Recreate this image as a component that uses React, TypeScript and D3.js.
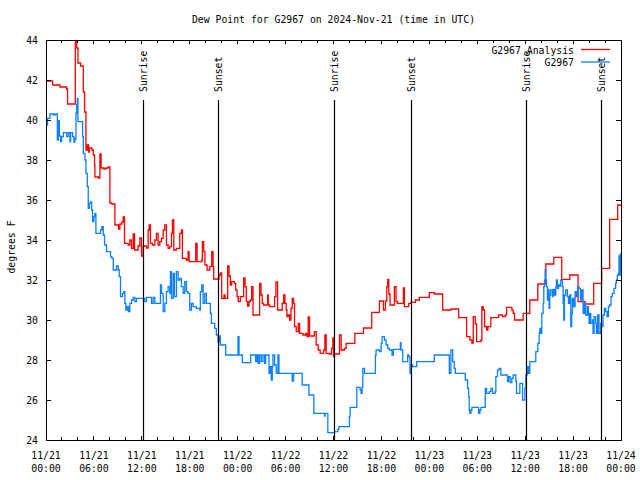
import React from "react";
import * as d3 from "d3";

const title = "Dew Point for G2967 on 2024-Nov-21 (time in UTC)";
const yLabel = "degrees F";
const seriesNames = ["G2967 Analysis", "G2967"];
const yTicks = [24, 26, 28, 30, 32, 34, 36, 38, 40, 42, 44];

// [hours since 2024-11-21 00:00 UTC, degrees F]
const analysisSeries: [number, number][] = [
  [0, 41.95], [0.83, 41.75], [1.75, 41.65], [2.58, 41.55], [2.7, 40.8], [3.67, 43.95], [3.85, 43.6], [4.0, 42.85],
  [4.33, 42.7], [4.67, 41.4], [4.83, 40.4], [5.0, 38.5], [5.17, 38.75], [5.33, 38.4], [5.42, 38.6], [5.75, 38.5],
  [5.92, 38.25], [6.08, 37.75], [6.125, 37.15], [6.58, 37.1], [6.75, 38.3], [6.9, 37.6], [7.25, 37.55], [7.5, 37.6],
  [7.79, 37.65], [8.0, 35.85], [8.25, 35.8], [8.625, 34.75], [9.08, 34.55], [9.25, 34.8], [9.5, 34.9], [9.67, 35.15],
  [9.83, 33.83], [10.29, 33.75], [10.5, 34.0], [10.7, 33.58], [10.92, 34.3], [11.08, 33.5], [11.54, 33.7], [11.75, 34.1],
  [11.96, 33.2], [12.17, 33.7], [12.58, 33.6], [12.79, 34.5], [12.92, 34.75], [13.08, 33.83], [13.33, 33.75], [13.625, 34.0],
  [13.83, 34.33], [14.04, 33.75], [14.25, 33.92], [14.46, 34.08], [14.67, 34.5], [14.875, 34.75], [15.08, 33.75], [15.29, 33.58],
  [15.5, 33.67], [15.71, 34.33], [15.83, 35.0], [16.0, 33.5], [16.33, 33.58], [16.75, 34.33], [16.96, 34.5], [17.08, 33.08],
  [17.58, 33.0], [17.79, 33.42], [17.92, 32.92], [18.75, 33.83], [18.92, 32.92], [19.5, 33.0], [19.58, 33.92], [19.75, 33.42],
  [19.9, 32.75], [20.17, 32.5], [20.5, 32.67], [20.75, 33.42], [20.92, 32.67], [21.0, 32.05], [21.54, 32.05], [21.67, 32.25],
  [21.83, 32.35], [22.0, 31.08], [22.29, 31.25], [22.42, 31.08], [22.75, 32.7], [22.92, 32.2], [23.08, 31.75], [23.25, 31.92],
  [23.58, 31.83], [23.75, 31.5], [23.92, 31.17], [24.08, 30.92], [24.33, 31.17], [24.75, 32.1], [24.92, 31.67], [25.08, 30.92],
  [25.25, 30.7], [25.42, 30.92], [25.58, 31.0], [25.75, 31.67], [25.92, 30.25], [26.75, 31.83], [26.92, 31.25], [27.08, 30.83],
  [27.25, 30.75], [27.75, 31.25], [27.83, 30.75], [28.0, 30.67], [28.625, 31.17], [28.79, 31.9], [29.0, 30.5], [29.58, 30.83],
  [29.75, 31.25], [29.92, 30.83], [30.08, 30.5], [30.17, 30.17], [30.33, 30.25], [30.5, 30.0], [30.67, 30.58], [30.83, 31.08],
  [31.0, 30.83], [31.125, 29.67], [31.33, 29.42], [31.58, 29.83], [31.75, 29.33], [32.17, 29.25], [32.5, 29.33], [32.67, 29.17],
  [32.83, 30.15], [33.0, 29.2], [33.6, 29.42], [33.83, 28.75], [34.08, 28.5], [34.33, 28.33], [34.75, 28.5], [34.92, 29.25],
  [35.08, 28.33], [35.5, 28.3], [35.75, 28.58], [35.92, 29.1], [36.0, 28.17], [36.125, 28.3], [36.75, 29.25], [36.96, 28.5],
  [37.375, 28.58], [37.58, 28.83], [38.67, 29.33], [39.75, 29.6], [40.79, 30.38], [41.75, 30.95], [42.25, 30.5], [42.5, 30.95],
  [42.67, 31.67], [42.79, 32.03], [42.92, 31.3], [43.08, 30.75], [43.625, 31.67], [43.83, 30.92], [44.0, 30.83], [44.75, 31.6],
  [44.875, 30.67], [45.42, 30.83], [45.7, 30.88], [46.25, 31.0], [46.75, 31.13], [48.0, 31.37], [48.625, 31.3], [49.67, 30.5],
  [50.7, 30.55], [51.67, 30.12], [52.67, 29.17], [53.08, 29.0], [53.33, 28.85], [53.5, 30.17], [53.75, 29.8], [53.92, 28.92],
  [54.46, 29.0], [54.58, 30.67], [54.75, 30.5], [54.92, 29.67], [55.17, 29.5], [55.33, 29.67], [55.7, 30.12], [56.67, 30.25],
  [57.17, 30.17], [57.5, 30.25], [57.67, 30.63], [58.33, 30.5], [58.5, 30.33], [58.67, 30.0], [59.75, 30.33], [60.58, 31.0],
  [61.58, 31.8], [62.58, 32.8], [63.58, 33.13], [64.58, 32.03], [65.58, 32.25], [66.625, 30.92], [67.5, 30.8], [68.58, 31.83],
  [69.58, 32.58], [70.58, 35.03], [71.58, 35.75], [72, 35.75],
];

const observedSeries: [number, number][] = [
  [0, 40.0], [0.1, 39.75], [0.2, 40.08], [0.5, 40.3], [0.92, 40.25], [1.125, 40.3], [1.42, 39.0], [1.54, 39.97],
  [1.67, 39.2], [1.83, 38.92], [1.96, 39.17], [2.17, 39.37], [2.58, 39.17], [2.79, 39.37], [3.0, 38.92], [3.08, 39.37],
  [3.33, 39.17], [3.5, 38.9], [3.625, 39.05], [3.75, 40.33], [3.83, 40.75], [3.92, 41.08], [4.0, 39.92], [4.58, 39.17],
  [4.67, 38.33], [4.875, 38.0], [5.0, 37.33], [5.17, 36.67], [5.29, 35.58], [5.42, 35.83], [5.58, 35.9], [5.71, 35.5],
  [5.83, 34.92], [6.0, 35.17], [6.125, 35.33], [6.25, 34.33], [6.83, 34.5], [7.0, 34.67], [7.17, 34.25], [7.33, 33.75],
  [7.58, 33.42], [8.08, 33.17], [8.25, 33.08], [8.42, 32.5], [8.83, 32.7], [9.04, 32.5], [9.17, 32.17], [9.33, 31.17],
  [9.58, 31.33], [9.75, 31.42], [9.875, 30.83], [10.0, 30.5], [10.17, 30.67], [10.33, 30.42], [10.5, 30.83], [10.71, 31.0],
  [10.92, 31.13], [11.125, 30.92], [11.33, 31.08], [12.375, 30.92], [12.58, 31.13], [13.21, 30.83], [13.42, 31.13], [13.625, 30.83],
  [14.33, 31.75], [14.46, 31.33], [14.67, 30.42], [14.875, 30.83], [15.08, 31.42], [15.29, 31.67], [15.5, 31.33], [15.58, 32.42],
  [15.71, 31.08], [15.92, 32.33], [16.08, 31.17], [16.33, 32.42], [16.54, 32.0], [16.75, 32.08], [16.96, 31.67], [17.17, 31.33],
  [17.375, 31.92], [17.58, 31.42], [17.79, 31.33], [18.0, 30.5], [18.21, 30.83], [18.42, 30.67], [18.83, 30.58], [19.25, 30.5],
  [19.33, 31.42], [19.5, 31.75], [19.67, 30.83], [19.875, 31.33], [20.08, 30.83], [20.58, 30.33], [20.71, 29.83], [21.125, 29.58],
  [21.33, 29.25], [21.54, 28.9], [21.67, 29.2], [21.83, 28.75], [22.5, 28.25], [24.04, 29.17], [24.17, 28.25], [24.58, 27.87],
  [25.625, 28.25], [26.25, 27.92], [26.42, 28.25], [26.58, 27.83], [26.75, 28.25], [26.96, 27.92], [27.17, 28.25], [27.375, 27.83],
  [27.5, 28.25], [27.92, 27.33], [28.08, 27.67], [28.21, 27.0], [28.33, 27.67], [28.42, 28.25], [28.625, 27.75], [28.83, 27.33],
  [29.04, 28.25], [29.17, 27.33], [30.83, 26.95], [31.0, 27.33], [32.08, 26.75], [32.92, 26.25], [33.54, 25.33], [34.875, 25.2],
  [34.95, 25.33], [35.29, 24.37], [36.125, 24.42], [36.54, 24.53], [36.67, 24.67], [38.0, 25.17], [38.08, 25.63], [38.92, 26.63],
  [39.33, 26.5], [39.46, 26.33], [39.58, 26.63], [39.67, 27.58], [39.875, 27.33], [41.25, 28.25], [41.33, 28.5], [41.75, 28.42],
  [41.96, 28.83], [42.08, 29.17], [42.375, 29.0], [42.58, 28.75], [42.79, 28.58], [43.0, 28.5], [43.33, 28.25], [43.5, 28.53],
  [44.375, 28.87], [44.46, 28.5], [44.67, 27.92], [45.29, 28.25], [45.42, 28.17], [45.58, 27.33], [45.71, 27.75], [45.92, 27.67],
  [46.42, 27.92], [48.625, 28.25], [50.5, 27.33], [50.7, 28.5], [50.92, 27.92], [51.125, 27.58], [51.25, 27.33], [52.5, 27.0],
  [52.79, 26.58], [52.92, 26.17], [53.0, 25.5], [53.08, 25.33], [53.21, 25.5], [53.33, 25.63], [54.17, 25.33], [54.33, 25.5],
  [54.46, 25.63], [55.0, 26.58], [55.17, 26.33], [55.5, 26.42], [55.71, 26.58], [55.92, 26.33], [56.25, 26.42], [56.33, 27.17],
  [56.54, 27.5], [56.75, 27.58], [56.96, 27.25], [57.79, 26.92], [57.92, 27.17], [58.125, 26.87], [58.33, 27.08], [58.5, 27.25],
  [58.83, 26.92], [58.92, 26.33], [59.33, 26.83], [59.67, 26.0], [59.96, 26.58], [60.08, 27.25], [60.25, 27.67], [60.42, 27.33],
  [60.58, 27.92], [61.25, 27.92], [61.33, 28.42], [61.58, 28.83], [61.75, 29.33], [61.83, 29.58], [61.96, 29.33], [62.08, 30.33],
  [62.25, 30.83], [62.33, 31.67], [62.42, 32.0], [62.5, 32.53], [62.58, 32.0], [62.67, 31.67], [62.79, 31.0], [62.92, 31.5],
  [63.0, 30.58], [63.08, 31.25], [63.21, 31.5], [63.42, 31.17], [63.5, 31.53], [63.67, 31.25], [63.83, 31.67], [63.92, 32.0],
  [64.04, 31.58], [64.17, 31.75], [64.33, 31.7], [64.46, 32.0], [64.67, 31.67], [64.75, 30.83], [64.83, 30.0], [64.92, 31.25],
  [65.08, 31.5], [65.29, 31.17], [65.42, 30.83], [65.58, 31.25], [65.71, 29.67], [65.83, 30.33], [65.92, 31.08], [66.08, 30.67],
  [66.25, 31.42], [66.42, 31.17], [66.58, 31.67], [66.75, 31.58], [66.92, 31.0], [67.08, 31.5], [67.25, 30.33], [67.42, 30.83],
  [67.58, 30.25], [67.79, 30.67], [67.92, 30.25], [68.0, 29.83], [68.08, 30.33], [68.21, 29.83], [68.42, 30.0], [68.5, 29.33],
  [68.625, 30.17], [68.83, 29.83], [68.92, 29.33], [69.08, 30.25], [69.25, 29.33], [69.46, 29.83], [69.58, 29.67], [69.75, 30.25],
  [69.92, 30.58], [70.08, 30.42], [70.25, 30.17], [70.42, 30.67], [70.58, 30.75], [70.75, 31.17], [70.92, 31.33], [71.125, 31.58],
  [71.33, 31.83], [71.42, 32.0], [71.54, 32.25], [71.67, 32.33], [71.75, 33.2], [71.83, 32.25], [71.92, 33.3], [72, 33.3],
];

const sunLabels = ["Sunrise", "Sunset", "Sunrise", "Sunset", "Sunrise", "Sunset"];
const sunHours = [12.11, 21.58, 36.1, 45.67, 60.14, 69.53];

const W = 640;
const H = 480;
const M = { left: 46, right: 621, top: 40, bottom: 440 };
const FONT = "'DejaVu Sans Mono', monospace";
const FS = 9.8;
const RED = "#ff0000";
const BLUE = "#0a80ff";

const t0 = Date.UTC(2024, 10, 21, 0, 0);
const toDate = (h: number) => new Date(t0 + h * 3600 * 1000);

export default function App() {
  const x = d3.scaleUtc().domain([toDate(0), toDate(72)]).range([M.left, M.right]);
  const y = d3.scaleLinear().domain([24, 44]).range([M.bottom, M.top]);
  const line = d3
    .line<[number, number]>()
    .x((d) => x(toDate(d[0])))
    .y((d) => y(d[1]))
    .curve(d3.curveStepAfter);

  const majorTicks = x.ticks(d3.utcHour.every(6)!);
  const minorTicks = x.ticks(d3.utcHour.every(2)!).filter((d) => d.getUTCHours() % 6 !== 0);
  const fmtDate = d3.utcFormat("%m/%d");
  const fmtTime = d3.utcFormat("%H:%M");

  return (
    <svg width={W} height={H} style={{ display: "block", position: "absolute", left: 0, top: 0 }} fontFamily={FONT} fontSize={FS}>
      <rect x={0} y={0} width={W} height={H} fill="#fff" />
      <text x={(M.left + M.right) / 2} y={23} textAnchor="middle">{title}</text>
      {/* data */}
      <g fill="none" strokeWidth={1.3}>
        <path d={line(analysisSeries) || ""} stroke={RED} />
        <path d={line(observedSeries) || ""} stroke={BLUE} />
      </g>
      {/* frame */}
      <rect x={M.left} y={M.top} width={M.right - M.left} height={M.bottom - M.top} fill="none" stroke="#000" shapeRendering="crispEdges" />
      {/* y ticks */}
      {yTicks.map((v) => (
        <g key={"y" + v} shapeRendering="crispEdges">
          <line x1={M.left} x2={M.left + 5} y1={y(v)} y2={y(v)} stroke="#000" />
          <line x1={M.right - 5} x2={M.right} y1={y(v)} y2={y(v)} stroke="#000" />
          <text x={M.left - 8} y={y(v)} textAnchor="end" dominantBaseline="central">{v}</text>
        </g>
      ))}
      {/* x ticks */}
      {majorTicks.map((d, i) => (
        <g key={"xm" + i} shapeRendering="crispEdges">
          <line x1={x(d)} x2={x(d)} y1={M.bottom} y2={M.bottom - 4} stroke="#000" />
          <line x1={x(d)} x2={x(d)} y1={M.top} y2={M.top + 4} stroke="#000" />
          <text x={x(d)} y={459} textAnchor="middle">{fmtDate(d)}</text>
          <text x={x(d)} y={472} textAnchor="middle">{fmtTime(d)}</text>
        </g>
      ))}
      {minorTicks.map((d, i) => (
        <g key={"xn" + i} shapeRendering="crispEdges">
          <line x1={x(d)} x2={x(d)} y1={M.bottom} y2={M.bottom - 3} stroke="#000" />
          <line x1={x(d)} x2={x(d)} y1={M.top} y2={M.top + 3} stroke="#000" />
        </g>
      ))}
      {/* y label */}
      <text transform={`translate(11,${(M.top + M.bottom) / 2 + 7}) rotate(-90)`} textAnchor="middle" dominantBaseline="central">{yLabel}</text>
      {/* sunrise / sunset */}
      {sunHours.map((h, i) => {
        const px = Math.round(x(toDate(h))) + 0.5;
        return (
          <g key={"s" + i}>
            <line x1={px} x2={px} y1={100} y2={M.bottom} stroke="#000" strokeWidth={1.2} />
            <text transform={`translate(${px},92) rotate(-90)`} textAnchor="start" dominantBaseline="central">{sunLabels[i]}</text>
          </g>
        );
      })}
      {/* legend */}
      {seriesNames.map((n, i) => (
        <g key={"l" + i}>
          <text x={574} y={50 + i * 12.5} textAnchor="end" dominantBaseline="central">{n}</text>
          <line x1={581} x2={610} y1={49.5 + i * 12.5} y2={49.5 + i * 12.5} stroke={i === 0 ? RED : BLUE} strokeWidth={1.3} />
        </g>
      ))}
    </svg>
  );
}
